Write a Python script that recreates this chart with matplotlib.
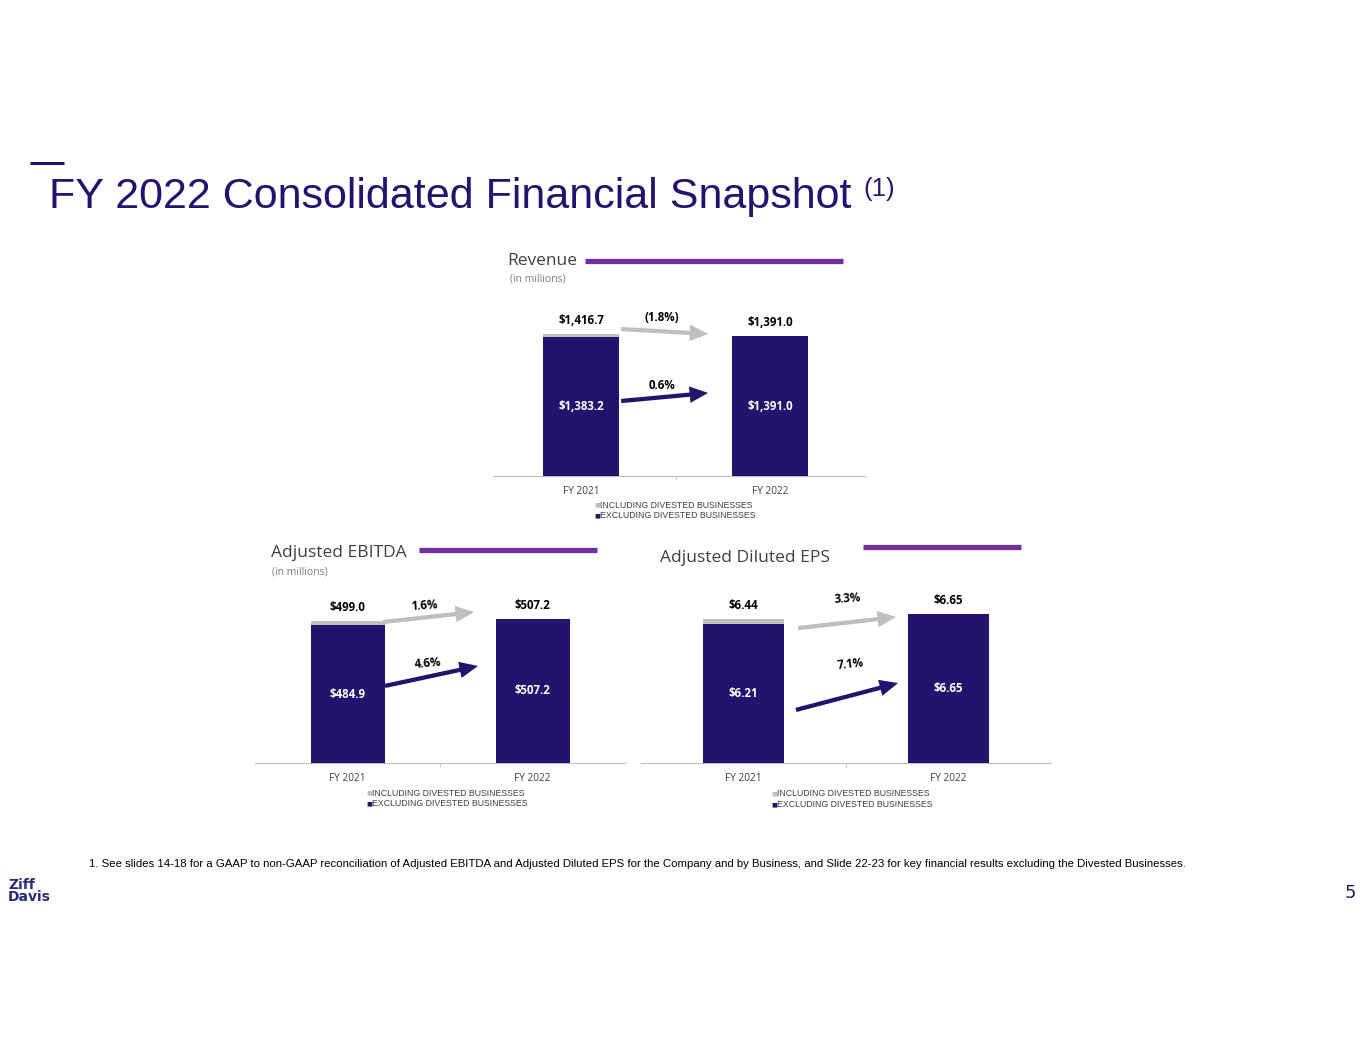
import matplotlib.pyplot as plt

# colores
NAVY = '#22136e'
GRAY = '#bfbfbf'
PURPLE = '#7030a0'
TXT = '#404040'

years = ['FY 2021', 'FY 2022']
legend_labels = ['INCLUDING DIVESTED BUSINESSES', 'EXCLUDING DIVESTED BUSINESSES']

rev_incl = [1416.7, 1391.0]
rev_excl = [1383.2, 1391.0]
rev_pct = ['(1.8%)', '0.6%']
rev_top = ['$1,416.7', '$1,391.0']
rev_in = ['$1,383.2', '$1,391.0']

ebitda_incl = [499.0, 507.2]
ebitda_excl = [484.9, 507.2]
ebitda_pct = ['1.6%', '4.6%']
ebitda_top = ['$499.0', '$507.2']
ebitda_in = ['$484.9', '$507.2']

eps_incl = [6.44, 6.65]
eps_excl = [6.21, 6.65]
eps_pct = ['3.3%', '7.1%']
eps_top = ['$6.44', '$6.65']
eps_in = ['$6.21', '$6.65']

W, H = 1365, 1055
fig = plt.figure(figsize=(W / 100, H / 100), dpi=100)


def fx(px):
    return px / W


def fy(py):
    return 1 - py / H


def panel(box, xlim, ymax, incl, excl, top, inside, pct, arr, bw, leg_x, leg_y):
    # box = (left, top, right, bottom) en pixeles
    l, t, r, b = box
    ax = fig.add_axes([fx(l), fy(b), fx(r - l), (b - t) / H])
    x = [0, 1]
    ax.bar(x, incl, width=bw, color=GRAY, zorder=2)
    ax.bar(x, excl, width=bw, color=NAVY, zorder=3)
    ax.set_xlim(*xlim)
    ax.set_ylim(0, ymax)
    for s in ['top', 'right', 'left']:
        ax.spines[s].set_visible(False)
    ax.spines['bottom'].set_color(GRAY)
    ax.set_yticks([])
    ax.set_xticks(x)
    ax.set_xticklabels(years, fontsize=7.3, color=TXT, family='Open Sans')
    ax.tick_params(axis='x', length=0, pad=7)
    ax.set_xticks([0.5], minor=True)
    ax.tick_params(axis='x', which='minor', length=3, color=GRAY)
    for i in x:
        ax.annotate(top[i], (i, max(incl[i], excl[i])), xytext=(0, 9.5),
                    textcoords='offset points', ha='center', va='center',
                    fontsize=8.3, fontweight='bold', color='black', family='Open Sans')
        ax.text(i, excl[i] / 2, inside[i], ha='center', va='center',
                fontsize=8.3, fontweight='bold', color='white', family='Open Sans', zorder=4)
    # flechas de variacion
    for k, col in enumerate([GRAY, NAVY]):
        (x0, y0, x1, y1), (tx, ty, rot) = arr[k]
        ax.annotate('', xy=(x1, y1), xytext=(x0, y0),
                    xycoords=('data', 'axes fraction'), textcoords=('data', 'axes fraction'),
                    arrowprops=dict(arrowstyle='simple,head_length=0.95,head_width=0.85,tail_width=0.22',
                                    mutation_scale=14, color=col, lw=0, shrinkA=0, shrinkB=0))
        ax.text(tx, ty, pct[k], transform=ax.get_xaxis_transform(), ha='center', va='center',
                fontsize=8.3, fontweight='bold', color='black', family='Open Sans', rotation=rot)
    # leyenda
    for k, col in enumerate([GRAY, NAVY]):
        fig.text(fx(leg_x), fy(leg_y + 10.5 * k), '\u25a0', fontsize=4.5, color=col,
                 ha='left', va='center')
        fig.text(fx(leg_x + 6), fy(leg_y + 10.5 * k), legend_labels[k], fontsize=6.3,
                 color=TXT, ha='left', va='center', family='Liberation Sans')
    return ax


panel((493, 300, 865, 476), (-0.466, 1.502), 1750, rev_incl, rev_excl, rev_top, rev_in, rev_pct,
      [((0.212, 0.835, 0.672, 0.807), (0.429, 0.898, 0)),
       ((0.212, 0.426, 0.672, 0.472), (0.429, 0.517, 0))],
      0.40, 594, 505)

panel((255, 585, 625, 763), (-0.5, 1.5), 626, ebitda_incl, ebitda_excl, ebitda_top, ebitda_in,
      ebitda_pct,
      [((0.192, 0.792, 0.684, 0.848), (0.414, 0.882, 4)),
       ((0.203, 0.433, 0.705, 0.545), (0.435, 0.562, 5))],
      0.40, 366, 793)

panel((641, 585, 1051, 763), (-0.5, 1.5), 7.94, eps_incl, eps_excl, eps_top, eps_in, eps_pct,
      [((0.266, 0.758, 0.744, 0.820), (0.510, 0.921, 4)),
       ((0.256, 0.298, 0.754, 0.449), (0.524, 0.556, 6))],
      0.395, 771, 794)

# encabezados de cada grafico
heads = [('Revenue', 507, 261, (585, 843, 261), '(in millions)', 510, 279),
         ('Adjusted EBITDA', 271, 553, (419, 597, 550), '(in millions)', 272, 572),
         ('Adjusted Diluted EPS', 660, 558, (863, 1021, 547), None, 0, 0)]
for name, hx, hy, (l0, l1, ly), sub, sx, sy in heads:
    fig.text(fx(hx), fy(hy), name, fontsize=12.5, color=TXT, ha='left', va='center',
             family='Open Sans')
    fig.add_artist(plt.Line2D([fx(l0), fx(l1)], [fy(ly), fy(ly)], color=PURPLE, lw=3.8,
                              solid_capstyle='butt'))
    if sub:
        fig.text(fx(sx), fy(sy), sub, fontsize=7.5, color='#7f7f7f', ha='left', va='center',
                 family='Open Sans')

# titulo
fig.add_artist(plt.Line2D([fx(30), fx(64)], [fy(163), fy(163)], color=NAVY, lw=2.2,
                          solid_capstyle='butt'))
titulo = fig.text(fx(49), fy(197), 'FY 2022 Consolidated Financial Snapshot', fontsize=31,
                  color=NAVY, ha='left', va='center', family='Liberation Sans')
fig.canvas.draw()
bb = titulo.get_window_extent()
fig.text(fx(bb.x1 + 12), fy(189), '(1)', fontsize=18.5, color=NAVY, ha='left', va='center',
         family='Liberation Sans')

# nota al pie
fig.text(fx(89), fy(864), '1. See slides 14-18 for a GAAP to non-GAAP reconciliation of Adjusted '
         'EBITDA and Adjusted Diluted EPS for the Company and by Business, and Slide 22-23 for key '
         'financial results excluding the Divested Businesses.', fontsize=8.2, color='black',
         ha='left', va='center', family='Liberation Sans')

# logo y numero de pagina
fig.text(fx(8), fy(885), 'Ziff', fontsize=10, fontweight='bold', color='#2b2a7a', ha='left',
         va='center', family='Liberation Sans Narrow')
fig.text(fx(8), fy(897), 'Davis', fontsize=10, fontweight='bold', color='#2b2a7a', ha='left',
         va='center', family='Liberation Sans Narrow')
fig.text(fx(1350), fy(893), '5', fontsize=13, color=NAVY, ha='center', va='center',
         family='Liberation Sans Narrow')

fig.savefig('out.png', dpi=100, facecolor='white')
